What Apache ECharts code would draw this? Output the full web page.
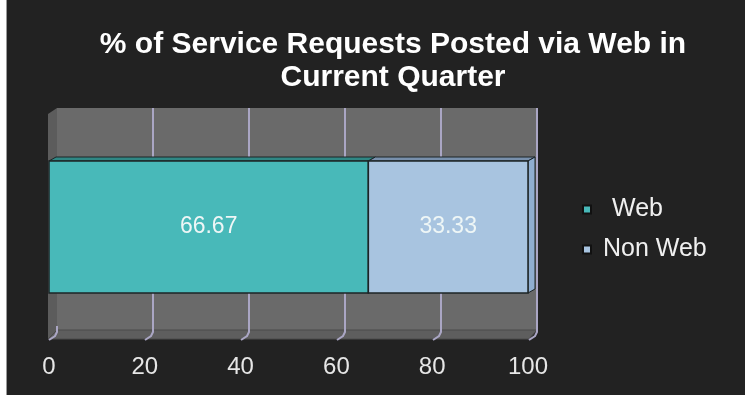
<!DOCTYPE html>
<html>
<head>
<meta charset="utf-8">
<script src="https://cdn.jsdelivr.net/npm/echarts@6/dist/echarts.min.js"></script>
<style>
  html, body { margin: 0; padding: 0; background: #ffffff; }
  #chart { width: 745px; height: 395px; }
</style>
</head>
<body>
<div id="chart"></div>
<script>
// Chart data
const categories = ['Current Quarter'];
const seriesNames = ['Web', 'Non Web'];
const webValues = [66.67];
const nonWebValues = [33.33];
const tickValues = [0, 20, 40, 60, 80, 100];

// Look of the 3D bars: front, top face and side face colours
const barStyles = [
  { front: '#48b9b9', top: '#2f8784', side: '#3a9e9c' },
  { front: '#a8c4e0', top: '#7890ac', side: '#90aed0' }
];
const depthX = 7, depthY = -4;
const FONT = '"Liberation Sans", Arial, sans-serif';

// Wall / floor geometry (pixels)
const wall = { left: 57, top: 108, right: 537, bottom: 330 };
const front = { left: 49, top: 161, right: 528, bottom: 293 };
const floorFront = 339;

// Stacked ranges: [start, end, categoryIndex, value]
const seriesValues = [webValues, nonWebValues];
const stacked = seriesValues.map(function (vals, s) {
  return vals.map(function (v, i) {
    let start = 0;
    for (let k = 0; k < s; k++) start += seriesValues[k][i];
    return [start, start + v, i, v];
  });
});

function makeBarRenderer(sIdx) {
  return function (params, api) {
    const start = api.value(0), end = api.value(1), cat = api.value(2), val = api.value(3);
    const a = api.coord([start, cat]);
    const b = api.coord([end, cat]);
    const h = api.size([0, 1])[1];
    const x0 = a[0], x1 = b[0], yT = a[1] - h / 2, yB = a[1] + h / 2;
    const st = barStyles[sIdx];
    const edge = '#1c2426';
    const children = [
      {
        type: 'polygon',
        shape: { points: [[x0, yT], [x0 + depthX, yT + depthY], [x1 + depthX, yT + depthY], [x1, yT]] },
        style: { fill: st.top, stroke: edge, lineWidth: 1 }
      }
    ];
    if (sIdx === seriesValues.length - 1) {
      children.push({
        type: 'polygon',
        shape: { points: [[x1, yT], [x1 + depthX, yT + depthY], [x1 + depthX, yB + depthY], [x1, yB]] },
        style: { fill: st.side, stroke: edge, lineWidth: 1 }
      });
    }
    children.push({
      type: 'rect',
      shape: { x: x0, y: yT, width: x1 - x0, height: yB - yT },
      style: { fill: st.front, stroke: edge, lineWidth: 1.5 }
    });
    children.push({
      type: 'text',
      style: {
        text: val.toFixed(2),
        x: (x0 + x1) / 2,
        y: (yT + yB) / 2,
        align: 'center',
        verticalAlign: 'middle',
        fill: '#eef6f6',
        font: '23px ' + FONT
      }
    });
    return { type: 'group', children: children };
  };
}

// Curled tick marks running from the back wall down across the floor
function renderFloorTick(params, api) {
  const p = api.coord([api.value(0), 0]);
  const xb = p[0];
  const dx = wall.left - front.left;
  return {
    type: 'polyline',
    shape: { points: [[xb, wall.bottom - 4], [xb, wall.bottom + 2], [xb - 2, wall.bottom + 6], [xb - dx, floorFront + 1]] },
    style: { stroke: '#aaa6c4', lineWidth: 2, fill: null }
  };
}

const chart = echarts.init(document.getElementById('chart'), null, { renderer: 'canvas' });

const option = {
  backgroundColor: '#222222',
  animation: false,
  title: {
    text: '% of Service Requests Posted via Web in\nCurrent Quarter',
    left: 388,
    top: 23,
    textAlign: 'center',
    textStyle: {
      color: '#ffffff',
      fontSize: 30,
      fontWeight: 'bold',
      lineHeight: 33,
      fontFamily: FONT
    }
  },
  legend: {
    orient: 'vertical',
    left: 577,
    top: 192,
    itemWidth: 8,
    itemHeight: 8,
    itemGap: 15,
    icon: 'rect',
    textStyle: { color: '#f0f0f0', fontSize: 25, fontFamily: FONT },
    data: [
      { name: 'Web', textStyle: { padding: [0, 0, 0, 16] } },
      { name: 'Non Web', textStyle: { padding: [0, 0, 0, 7] } }
    ]
  },
  graphic: [
    { type: 'rect', left: 0, top: 0, shape: { width: 6, height: 395 }, style: { fill: '#ffffff' }, z: 100 },
    { type: 'line', shape: { x1: 6.5, y1: 0, x2: 6.5, y2: 395 }, style: { stroke: '#9a9a9a', lineWidth: 1 }, z: 100 },
    // left side wall
    {
      type: 'polygon', z: -1,
      shape: { points: [[front.left - 1, wall.top + 6], [wall.left, wall.top], [wall.left, wall.bottom], [front.left - 1, floorFront]] },
      style: { fill: '#5c5c5c' }
    },
    // floor
    {
      type: 'polygon', z: -1,
      shape: { points: [[wall.left, wall.bottom], [wall.right, wall.bottom], [wall.right - 8, floorFront], [front.left - 1, floorFront]] },
      style: { fill: '#5e5e5e', stroke: '#4a4a4a', lineWidth: 1 }
    }
  ],
  grid: [
    { left: front.left, top: front.top, width: front.right - front.left, height: front.bottom - front.top },
    {
      left: wall.left, top: wall.top, width: wall.right - wall.left, height: wall.bottom - wall.top,
      show: true, backgroundColor: '#6a6a6a', borderWidth: 0, z: -2
    }
  ],
  xAxis: [
    {
      type: 'value', gridIndex: 0, min: 0, max: 100, interval: 20,
      axisLine: { show: false }, axisTick: { show: false }, splitLine: { show: false },
      axisLabel: { color: '#e6e6e6', fontSize: 24, margin: 62, fontFamily: FONT }
    },
    {
      type: 'value', gridIndex: 1, min: 0, max: 100, interval: 20,
      axisLine: { show: false }, axisTick: { show: false }, axisLabel: { show: false },
      splitLine: { show: true, showMinLine: false, lineStyle: { color: '#aaa6c4', width: 2 } }
    }
  ],
  yAxis: [
    { type: 'category', gridIndex: 0, data: categories, show: false },
    { type: 'category', gridIndex: 1, data: categories, show: false }
  ],
  series: [
    {
      name: 'floorTicks', type: 'custom', xAxisIndex: 1, yAxisIndex: 1, clip: false, z: 1,
      renderItem: renderFloorTick,
      data: tickValues.map(function (t) { return [t]; }),
      silent: true, tooltip: { show: false }
    }
  ].concat(seriesNames.map(function (name, s) {
    return {
      name: name,
      type: 'custom',
      xAxisIndex: 0,
      yAxisIndex: 0,
      clip: false,
      z: 5 + s,
      itemStyle: { color: barStyles[s].front, borderColor: '#111', borderWidth: 1 },
      encode: { x: [0, 1], y: 2 },
      renderItem: makeBarRenderer(s),
      data: stacked[s]
    };
  }))
};

chart.setOption(option);
</script>
</body>
</html>
